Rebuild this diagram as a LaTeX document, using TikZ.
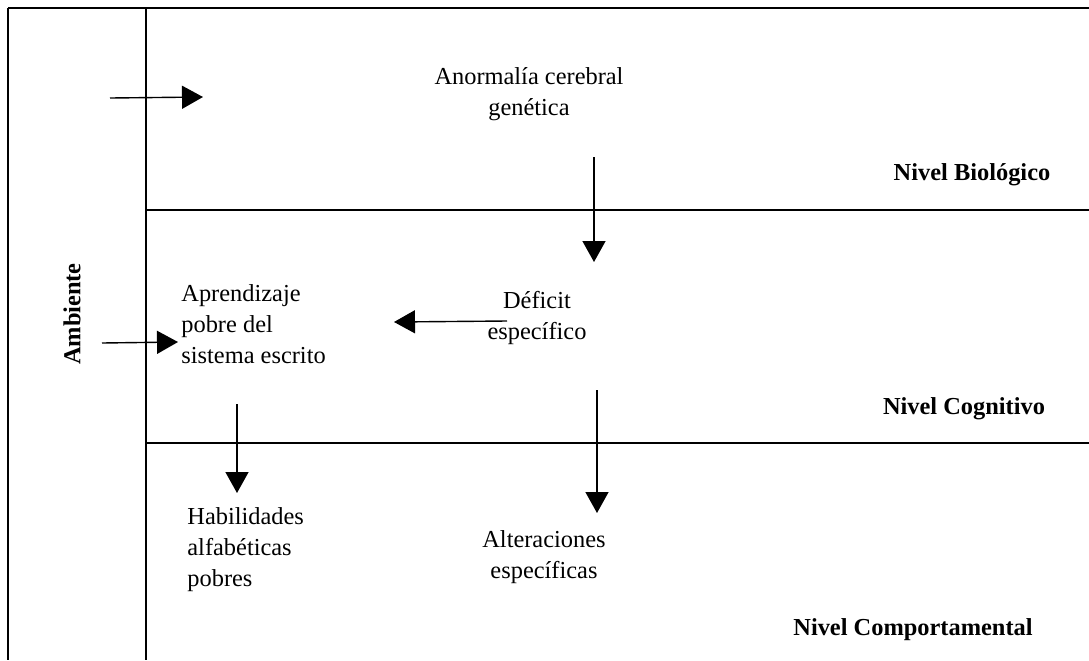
\documentclass[tikz,border=0pt]{standalone}
\usepackage{fontspec}
\setmainfont{Liberation Serif}
\usetikzlibrary{arrows.meta}

\begin{document}
\begin{tikzpicture}[x=0.5pt, y=-0.5pt,
    texto/.style={inner sep=0pt, align=center, font=\fontsize{12.2}{15.5}\selectfont},
    textoizq/.style={texto, anchor=west, align=left},
    nivel/.style={inner sep=0pt, font=\fontsize{12.2}{15.5}\selectfont\bfseries},
    flecha/.style={line width=0.7pt, -{Triangle[length=10.5pt, width=11.5pt]}},
    marco/.style={line width=0.75pt}]
            \useasboundingbox (0, 0) rectangle (1089, 660);

            % marco y niveles
            \draw[marco, line width=1pt] (8, 8) -- (1089, 8);
            \draw[marco] (8, 8) -- (8, 660);
            \draw[marco] (146, 8) coordinate (ambA) -- (146, 660) coordinate (ambB);
            \draw[marco] (ambA |- 0, 210) -- (1089, 210);
            \draw[marco] (ambA |- 0, 443) -- (1089, 443);

            \node[nivel, rotate=90] (ambiente) at (72, 314) {Ambiente};
            \node[nivel] (biologico) at (972, 175) {Nivel Biológico};
            \node[nivel] (cognitivo) at (964, 409) {Nivel Cognitivo};
            \node[nivel] (comportamental) at (913, 630) {Nivel Comportamental};

            \node[texto] (anormalia) at (529, 94) {Anormalía cerebral\\genética};
            \node[texto] (deficit) at (537, 318) {Déficit\\específico};
            \node[textoizq] (aprendizaje) at (181, 324) {Aprendizaje\\pobre del\\sistema escrito};
            \node[textoizq] (habilidades) at (187, 550) {Habilidades\\alfabéticas\\pobres};
            \node[texto] (alteraciones) at (544, 557) {Alteraciones\\específicas};

            % extremos de las flechas
            \coordinate (amb1) at (110, 98);
            \coordinate (amb1f) at (203, 97);
            \coordinate (amb2) at (102, 343);
            \coordinate (amb2f) at (178, 342);
            \coordinate (ano) at (594, 157);
            \coordinate (anof) at (594, 262);
            \coordinate (def) at (507, 321);
            \coordinate (deff) at (394, 322);
            \coordinate (apr) at (237, 404);
            \coordinate (aprf) at (237, 493);
            \coordinate (def2) at (597, 390);
            \coordinate (def2f) at (597, 513);

            \draw[flecha] (amb1) -- (amb1f);
            \draw[flecha] (amb2) -- (amb2f);
            \draw[flecha] (ano) -- (anof);
            \draw[flecha] (def) -- (deff);
            \draw[flecha] (apr) -- (aprf);
            \draw[flecha] (def2) -- (def2f);
        \end{tikzpicture}
\end{document}
